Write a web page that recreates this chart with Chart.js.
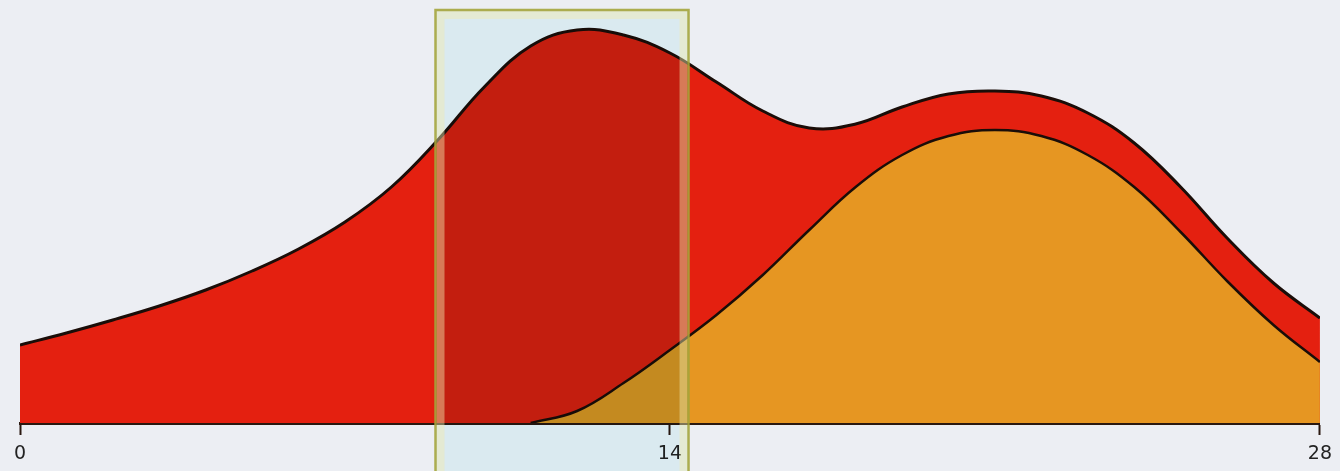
<!DOCTYPE html>
<html>
<head>
<meta charset="utf-8">
<title>Area chart</title>
<script src="https://cdn.jsdelivr.net/npm/chart.js@4/dist/chart.umd.min.js"></script>
<style>
  html, body { margin: 0; padding: 0; background: #eceef3; }
  #wrap { width: 1340px; height: 471px; position: relative; }
</style>
</head>
<body>
<div id="wrap"><canvas id="areaChart"></canvas></div>
<script>
// x positions (days 0..28)
const days = [0, 1, 2, 3, 4, 5, 6, 7, 8, 9, 10, 11, 12, 13, 14, 15, 16, 17, 18, 19, 20, 21, 22, 23, 24, 25, 26, 27, 28];

// upper curve (red area)
const redValues = [78, 90, 103, 117, 133, 152, 174, 201, 236, 283, 336, 377, 393, 388, 370, 341, 312, 295, 299, 316, 329, 332, 327, 310, 280, 236, 185, 140, 105];

// lower curve (orange area), starts at day 11
const orangeValues = [null, null, null, null, null, null, null, null, null, null, null, 0, 12, 40, 73, 108, 148, 193, 236, 268, 287, 293, 287, 268, 236, 191, 142, 98, 61];

const tickLabels = [0, 14, 28];

// highlighted band, in x units
const bandStart = 8.95;
const bandEnd = 14.4;
const bandTop = 413;

const highlightPlugin = {
    id: 'highlight',
    afterDatasetsDraw(chart) {
        const ctx = chart.ctx;
        const x = chart.scales.x;
        const y = chart.scales.y;
        const left = x.getPixelForValue(bandStart);
        const right = x.getPixelForValue(bandEnd);
        const top = y.getPixelForValue(bandTop);
        const bottom = chart.height + 5;
        ctx.save();
        ctx.globalCompositeOperation = 'multiply';
        ctx.fillStyle = 'rgb(218, 234, 240)';
        ctx.fillRect(left, top, right - left, bottom - top);
        ctx.globalCompositeOperation = 'source-over';
        // pale yellow inner edge
        ctx.strokeStyle = 'rgba(240, 236, 175, 0.45)';
        ctx.lineWidth = 8;
        ctx.strokeRect(left + 5, top + 5, right - left - 10, bottom - top);
        // olive outline
        ctx.strokeStyle = 'rgba(165, 165, 60, 0.9)';
        ctx.lineWidth = 2.5;
        ctx.strokeRect(left, top, right - left, bottom - top + 10);
        ctx.restore();
    }
};

function toPoints(values) {
    return days.map((d, i) => ({ x: d, y: values[i] }));
}

function initChart() {
    const ctx = document.getElementById('areaChart').getContext('2d');
    new Chart(ctx, {
        type: 'line',
        data: {
            datasets: [
                {
                    label: 'total',
                    data: toPoints(redValues),
                    backgroundColor: 'rgb(228, 32, 16)',
                    borderColor: '#1a0d08',
                    borderWidth: 3,
                    fill: 'origin',
                    pointRadius: 0,
                    tension: 0.4,
                    order: 2
                },
                {
                    label: 'second',
                    data: toPoints(orangeValues),
                    backgroundColor: 'rgb(230, 150, 34)',
                    borderColor: '#1a0d08',
                    borderWidth: 2.5,
                    fill: 'origin',
                    pointRadius: 0,
                    spanGaps: false,
                    tension: 0.4,
                    order: 1
                }
            ]
        },
        options: {
            responsive: true,
            maintainAspectRatio: false,
            animation: false,
            layout: { padding: { left: 20, right: 20, top: 23, bottom: 0 } },
            scales: {
                x: {
                    type: 'linear',
                    min: 0,
                    max: 28,
                    afterBuildTicks: (scale) => {
                        scale.ticks = tickLabels.map(v => ({ value: v }));
                    },
                    afterFit: (scale) => { scale.height = 48; },
                    border: { display: true, color: '#2a1810', width: 3 },
                    grid: {
                        display: true,
                        drawOnChartArea: false,
                        drawTicks: true,
                        tickLength: 12,
                        tickWidth: 2,
                        tickColor: '#2a1810'
                    },
                    ticks: {
                        color: '#222222',
                        padding: 8,
                        maxRotation: 0,
                        font: { family: 'DejaVu Sans', size: 19 }
                    }
                },
                y: {
                    display: false,
                    min: 0,
                    max: 400
                }
            },
            plugins: {
                legend: { display: false },
                tooltip: { enabled: false }
            }
        },
        plugins: [highlightPlugin]
    });
}

if (document.readyState === 'loading') {
    document.addEventListener('DOMContentLoaded', initChart);
} else {
    initChart();
}
</script>
</body>
</html>
